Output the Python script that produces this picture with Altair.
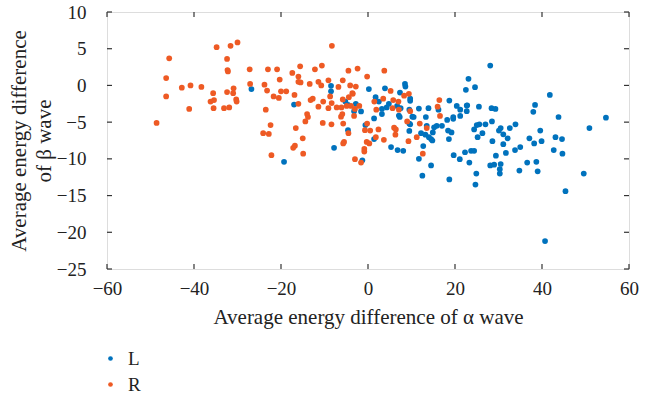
import altair as alt
import pandas as pd

# Group R (orange)
r_x = [-48.6,-46.4,-45.7,-46.4,-42.8,-40.8,-41.1,-38.3,-34.8,-31.6,-30.0,-32.4,-32.3,-32.2,-35.6,-36.2,-35.4,-35.5,-33.1,-31.9,
       -32.4,-30.9,-31.0,-30.3,-30.2,-27.2,-27.1,-23.8,-23.2,-23.0,-20.9,-20.3,-20.0,-18.8,-21.7,-20.5,-23.5,-22.4,-24.1,-22.8,-22.2,
       -8.3,-15.6,-17.4,-16.0,-16.0,-15.5,-12.2,-10.6,-13.4,-11.4,-10.75,-16.9,-12.7,-13.2,-9.1,-8.7,-6.8,-5.8,-4.5,-2.4,
       -4.1,-2.8,-3.6,-0.2,3.75,5.2,9.4,8.3,-10.3,-11.4,-8.35,-9.1,-7.2,-6.1,-5.8,-4.4,-3.5,-4.9,-3.9,-2.0,
       -3.0,-14.0,-13.8,-14.4,-16.6,-10.4,-8.4,-6.2,-5.9,-5.7,-3.2,1.45,3.5,5.8,7.0,5.65,7.1,9.7,-0.2,-0.7,
       0.5,2.4,1.8,6.0,6.3,11.2,11.9,13.5,16.4,16.55,16.0,-15.0,-4.5,-16.0,1.9,
       -0.3,0.3,-0.85,-0.85,-1.6,-3.0,3.65,6.4,9.0,9.3,12.6,-16.8,-17.2,-14.9,-5.5,-5.7]
r_y = [-5.1,1.0,3.7,-1.5,-0.3,0.0,-3.2,-0.2,5.2,5.4,5.85,3.6,2.1,1.9,-1.05,-2.2,-2.0,-3.1,-3.1,-3.0,
       -0.9,-0.4,-1.05,-1.9,-2.2,2.2,0.2,0.1,-0.7,2.2,2.2,0.8,-0.8,-0.8,-1.5,-1.7,-3.3,-5.4,-6.5,-6.6,-9.5,
       5.4,2.6,1.7,1.2,0.5,0.4,2.2,2.7,0.2,0.5,0.0,-1.3,-1.8,-2.0,0.7,-1.5,-0.2,0.7,2.0,2.3,
       0.0,-0.15,-1.05,1.2,2.0,-0.75,-1.15,-1.4,-2.2,-2.9,-2.4,-3.1,-3.0,-3.0,-1.9,-1.6,-1.15,-2.8,-2.8,-2.8,
       -3.2,-3.9,-4.3,-4.9,-5.8,-5.1,-5.3,-4.25,-3.9,-5.2,-4.15,-2.2,-1.8,-2.0,-2.2,-3.1,-3.3,-3.5,-5.2,-6.1,
       -6.15,-6.0,-7.05,-5.75,-6.7,-7.05,-5.2,-5.8,-2.0,-4.15,-2.9,-7.2,-6.5,-2.5,-3.3,
       -7.7,-7.9,-8.65,-9.0,-10.5,-10.05,-7.4,-6.0,-4.9,-7.6,-9.3,-8.2,-8.5,-9.3,-7.7,-7.9]

# Group L (blue)
l_x = [-26.8,-19.3,-8.5,-8.5,-17.0,-5.2,-4.6,-2.8,-3.2,-1.6,0.2,1.75,2.5,3.9,4.8,4.3,3.2,3.2,1.4,6.7,
       7.5,7.1,7.3,8.5,8.6,7.35,9.7,9.7,9.5,10.2,10.5,9.5,11.7,13.9,13.3,13.5,15.2,15.8,17.0,16.2,
       18.7,18.2,19.6,19.6,20.4,21.2,21.2,22.7,23.1,22.5,24.6,24.4,25.5,25.6,12.2,14.9,14.0,18.4,19.2,-0.6,
       28.1,41.8,38.4,38.0,22.8,22.7,28.4,29.3,28.5,27.0,25.0,26.3,25.2,30.1,30.5,31.1,32.6,33.9,32.1,37.1,
       39.6,43.8,43.1,44.6,50.9,54.7,
       28.6,31.1,29.4,28.1,29.0,30.5,30.3,30.3,31.7,33.8,35.0,38.2,39.9,34.8,36.6,38.7,39.0,42.7,44.7,49.6,
       45.4,40.7,22.3,23.7,24.4,21.1,23.3,24.9,24.7,
       -7.8,-4.6,-1.3,9.5,9.7,13.2,14.5,14.8,18.6,12.7,5.3,6.8,8.1,11.7,14.5,12.5,18.7,19.7,1.4]
l_y = [-0.5,-10.4,-0.05,-0.8,-2.6,-2.2,-2.65,-2.5,-3.5,-3.55,-0.5,-1.6,-2.2,-0.4,-2.5,-3.0,-3.2,-3.9,-4.5,-2.8,
       -3.1,-4.1,-4.3,0.2,-0.15,-0.97,-1.8,-2.1,-3.3,-4.25,-4.3,-5.2,-3.15,-3.1,-4.3,-5.5,-5.7,-5.5,-5.5,-3.3,
       -2.06,-4.7,-4.3,-4.55,-2.8,-3.3,-4.15,-2.75,0.9,-0.6,-0.24,-6.0,-2.9,-5.3,-6.5,-6.4,-7.05,-6.15,-6.4,-5.4,
       2.7,-1.3,-2.65,-3.6,-2.7,-3.5,-3.1,-3.2,-4.9,-5.3,-5.4,-6.5,-7.05,-6.15,-5.8,-6.65,-5.8,-5.3,-7.2,-7.2,
       -6.15,-4.3,-7.05,-7.3,-5.8,-4.4,
       -7.6,-8.0,-9.56,-10.9,-10.8,-10.7,-11.4,-12.0,-9.2,-8.8,-8.4,-7.9,-7.6,-11.6,-10.5,-10.4,-11.7,-8.8,-9.3,-12.0,
       -14.4,-21.2,-9.1,-8.9,-8.9,-10.05,-10.5,-12.0,-13.5,
       -8.5,-6.1,-10.2,-6.2,-5.3,-6.7,-7.3,-7.5,-7.3,-8.25,-8.4,-8.8,-8.9,-10.0,-10.9,-12.3,-12.8,-9.5,-7.3]

groups = ["L", "R"]
colors = ["#0072BD", "#EE5A24"]
x_ticks = [-60, -40, -20, 0, 20, 40, 60]
y_ticks = [-25, -20, -15, -10, -5, 0, 5, 10]

df = pd.concat([
    pd.DataFrame({"x": l_x, "y": l_y, "g": "L", "o": 0}),
    pd.DataFrame({"x": r_x, "y": r_y, "g": "R", "o": 1}),
])

W, H = 522, 257
FONT = "Liberation Serif"
xs = alt.Scale(domain=[-60, 60], nice=False, zero=False)
ys = alt.Scale(domain=[-25, 10], nice=False, zero=False)

x_axis = alt.Axis(
    values=x_ticks, title="Average energy difference of α wave", grid=False,
    ticks=False, labelPadding=10, titlePadding=8, domain=False,
    labelOverlap=False, labelFlush=False,
    labelFontSize=19, titleFontSize=21, labelFont=FONT, titleFont=FONT,
    labelColor="#222", titleColor="#222", titleFontWeight="normal")
y_axis = alt.Axis(
    values=y_ticks, title=["Average energy difference", "of β wave"], grid=False,
    ticks=False, labelPadding=21, titlePadding=2, domain=False,
    labelOverlap=False, labelFlush=False,
    labelFontSize=19, titleFontSize=21, labelFont=FONT, titleFont=FONT,
    labelColor="#222", titleColor="#222", titleFontWeight="normal",
    titleLineHeight=25)

points = alt.Chart(df).mark_circle(size=33, opacity=1).encode(
    x=alt.X("x:Q", scale=xs, axis=x_axis),
    y=alt.Y("y:Q", scale=ys, axis=y_axis),
    color=alt.Color("g:N", scale=alt.Scale(domain=groups, range=colors),
                    legend=alt.Legend(title=None, orient="none", legendX=-6, legendY=337,
                                      padding=0, symbolType="circle", symbolSize=22,
                                      labelFont=FONT, labelFontSize=19, labelColor="#222",
                                      rowPadding=6, labelOffset=8)),
    order=alt.Order("o:Q"),
)

xt = pd.DataFrame({"x": x_ticks})
yt = pd.DataFrame({"y": y_ticks})
tick_color = "#333"
xb = alt.Chart(xt).mark_rule(color=tick_color, strokeWidth=1.2).encode(
    x=alt.X("x:Q", scale=xs, axis=x_axis), y=alt.value(H), y2=alt.value(H - 5))
xtop = alt.Chart(xt).mark_rule(color=tick_color, strokeWidth=1.2).encode(
    x=alt.X("x:Q", scale=xs, axis=x_axis), y=alt.value(0), y2=alt.value(5))
yl = alt.Chart(yt).mark_rule(color=tick_color, strokeWidth=1.2).encode(
    y=alt.Y("y:Q", scale=ys, axis=y_axis), x=alt.value(0), x2=alt.value(5))
yr = alt.Chart(yt).mark_rule(color=tick_color, strokeWidth=1.2).encode(
    y=alt.Y("y:Q", scale=ys, axis=y_axis), x=alt.value(W), x2=alt.value(W - 5))

chart = alt.layer(points, xb, xtop, yl, yr).properties(
    width=W, height=H,
    autosize=alt.AutoSizeParams(type="none"),
    padding={"left": 107, "top": 12, "right": 28, "bottom": 131},
).configure_view(stroke="#222", strokeWidth=1.5).configure(background="white")

chart.save("out.html", embed_options={"renderer": "svg", "actions": False})
